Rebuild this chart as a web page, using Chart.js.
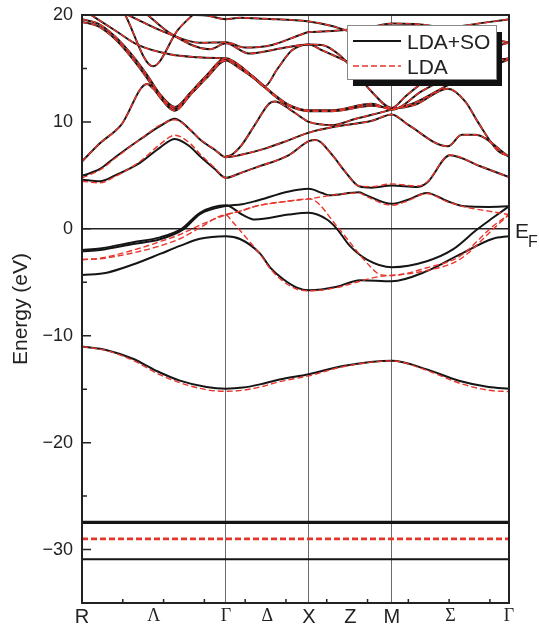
<!DOCTYPE html>
<html lang="en">
<head>
<meta charset="UTF-8">
<title>Band structure</title>
<script src="https://cdn.jsdelivr.net/npm/chart.js"></script>
<style>
  html, body { margin: 0; padding: 0; background: #fff; }
  canvas { display: block; }
</style>
</head>
<body>
<canvas id="bands" width="539" height="626"></canvas>
<script>
// k-path in units of 2pi/a : R - Gamma - X - M - Gamma
const kSym = [0, 0.867, 1.367, 1.867, 2.573];
const kLabelPos = [0, 0.433, 0.867, 1.117, 1.367, 1.617, 1.867, 2.22, 2.573];
const kLabels = ['R', 'Λ', 'Γ', 'Δ', 'X', 'Z', 'M', 'Σ', 'Γ'];
const yTicks = [20, 10, 0, -10, -20, -30];

// LDA+SO bands, [k, E(eV)]
const soCore1 = [[0, -27.45], [2.573, -27.45]];
const soCore2 = [[0, -30.9], [2.573, -30.9]];
const soSemi = [[0, -11.0], [0.15, -11.35], [0.307, -12.15], [0.45, -13.3], [0.59, -14.2], [0.75, -14.8], [0.867, -14.95], [0.97, -14.85], [1.072, -14.55], [1.19, -14.1], [1.367, -13.6], [1.572, -12.84], [1.867, -12.34], [2.078, -13.15], [2.277, -14.24], [2.45, -14.8], [2.573, -14.95]];
const soV1 = [[0, -4.33], [0.15, -4.1], [0.307, -3.34], [0.47, -2.35], [0.59, -1.6], [0.711, -0.93], [0.867, -0.69], [0.952, -0.95], [1.072, -2.3], [1.133, -3.6], [1.211, -4.7], [1.295, -5.5], [1.367, -5.75], [1.536, -5.42], [1.675, -4.8], [1.867, -4.9], [2.078, -3.96], [2.277, -2.4], [2.476, -0.93], [2.573, -0.69]];
const soV2a = [[0, -1.98], [0.108, -1.84], [0.307, -1.25], [0.47, -0.8], [0.6, 0], [0.711, 1.5], [0.867, 2.2], [0.964, 1.34], [1.042, 0.87], [1.247, 1.34], [1.367, 1.5], [1.476, 0.87], [1.536, 0], [1.614, -1.6], [1.717, -2.87], [1.867, -3.59], [2.078, -3.03], [2.235, -1.93], [2.38, -0.07], [2.476, 1.03], [2.573, 2.11]];
const soV2b = [[0, -2.1], [0.108, -1.98], [0.307, -1.42], [0.47, -0.98], [0.615, 0], [0.711, 1.38], [0.867, 2.14], [0.964, 2.3], [1.042, 2.58], [1.247, 3.5], [1.367, 3.74], [1.446, 3.35], [1.488, 3.14], [1.669, 3.42], [1.705, 3.2], [1.867, 2.34], [1.96, 2.7], [2.078, 3.36], [2.2, 2.6], [2.307, 2.1], [2.45, 2.05], [2.573, 2.1]];
const soC2 = [[0, 4.6], [0.108, 4.45], [0.2, 5.0], [0.349, 6.17], [0.47, 7.6], [0.56, 8.41], [0.65, 7.7], [0.711, 6.79], [0.8, 5.6], [0.867, 4.77], [0.952, 5.2], [1.042, 5.7], [1.247, 6.9], [1.367, 8.2], [1.41, 8.3], [1.506, 6.94], [1.584, 5.38], [1.669, 3.98], [1.747, 3.85], [1.867, 4.05], [2.018, 3.9], [2.078, 4.3], [2.217, 6.88], [2.4, 5.85], [2.573, 4.83]];
const soC1 = [[0, 4.95], [0.108, 5.6], [0.2, 6.7], [0.349, 8.35], [0.47, 9.6], [0.56, 10.3], [0.65, 9.3], [0.711, 8.35], [0.8, 7.4], [0.867, 6.69], [0.952, 6.9], [1.102, 7.5], [1.247, 8.3], [1.367, 9.0], [1.506, 9.5], [1.747, 10.1], [1.867, 10.7], [1.964, 9.74], [2.205, 7.72], [2.289, 8.8], [2.367, 8.8], [2.573, 6.73]];
const soG2 = [[0.867, 6.75], [0.904, 6.95], [0.964, 7.88], [1.042, 9.74], [1.127, 11.7], [1.163, 11.9], [1.25, 11.2], [1.343, 10.2], [1.367, 10.0], [1.506, 9.7], [1.65, 10.3], [1.867, 11.15], [2.006, 11.8], [2.2, 13.4], [2.4, 14.8], [2.573, 15.85]];
const soA = [[0, 6.3], [0.108, 8.0], [0.235, 9.7], [0.392, 13.55], [0.43, 13.1], [0.49, 12.1], [0.56, 11.2], [0.65, 12.5], [0.75, 14.1], [0.867, 15.75], [0.95, 15.0], [1.042, 14.0], [1.163, 12.4], [1.247, 11.5], [1.367, 11.0], [1.506, 11.0], [1.747, 11.5], [1.867, 11.27], [2.006, 11.6], [2.205, 13.1], [2.31, 11.9], [2.385, 10.0], [2.506, 7.3], [2.573, 6.78]];
const soB1 = [[0, 19.6], [0.096, 19.2], [0.199, 18.0], [0.3, 16.3], [0.392, 14.4], [0.47, 12.6], [0.56, 11.4], [0.651, 12.7], [0.747, 14.3], [0.867, 15.95], [0.95, 15.2], [1.042, 14.1], [1.163, 12.5], [1.247, 11.6], [1.367, 11.1], [1.506, 11.1], [1.747, 11.7], [1.867, 11.15], [2.05, 12.9], [2.25, 14.5], [2.4, 15.4], [2.573, 15.95]];
const soB2 = [[0, 19.35], [0.096, 18.95], [0.199, 17.75], [0.3, 16.0], [0.392, 14.1], [0.47, 12.3], [0.56, 11.05], [0.651, 12.5], [0.747, 14.1], [0.867, 15.85], [1.042, 14.1], [1.1, 13.3], [1.175, 14.9], [1.265, 16.7], [1.367, 17.25], [1.446, 16.7], [1.548, 16.0], [1.7, 15.0], [1.867, 14.5], [2.1, 15.3], [2.35, 16.5], [2.573, 17.4]];
const soU1 = [[0.05, 20.05], [0.2, 18.55], [0.337, 17.2], [0.536, 16.3], [0.7, 16.05], [0.867, 15.95]];
const soU2 = [[0.27, 20.05], [0.512, 18.3], [0.711, 17.4], [0.867, 17.45], [0.982, 16.95], [1.145, 17.2], [1.325, 18.2], [1.367, 18.4], [1.446, 18.45], [1.584, 18.6], [1.75, 18.9], [1.867, 19.2], [2.1, 19.0], [2.35, 18.0], [2.573, 17.45]];
const soU3 = [[0.392, 20.05], [0.53, 18.3], [0.771, 16.8], [0.867, 17.35], [1.006, 16.4], [1.205, 16.9], [1.367, 17.25], [1.446, 17.2], [1.548, 16.3], [1.645, 14.7], [1.747, 12.8], [1.867, 11.3], [1.95, 12.4], [2.1, 14.2], [2.35, 15.6], [2.573, 15.9]];
const soV = [[0.259, 20.05], [0.428, 15.2], [0.578, 18.6], [0.669, 20.05]];
const soT = [[0.6, 20.05], [0.75, 19.95], [0.867, 19.6], [0.95, 19.75], [1.1, 19.65], [1.367, 19.4], [1.5, 19.0], [1.584, 18.6], [1.7, 18.2], [1.867, 18.0], [2.1, 18.5], [2.3, 19.0], [2.573, 19.6]];

// LDA bands (no spin-orbit)
const ldaCore = [[0, -29.0], [2.573, -29.0]];
const ldaSemi = [[0, -11.0], [0.15, -11.4], [0.307, -12.3], [0.45, -13.5], [0.59, -14.4], [0.75, -15.05], [0.867, -15.2], [0.97, -15.1], [1.072, -14.8], [1.19, -14.3], [1.367, -13.75], [1.572, -12.9], [1.867, -12.35], [2.078, -13.25], [2.277, -14.45], [2.45, -15.1], [2.573, -15.23]];
const ldaV1 = [[0, -2.87], [0.108, -2.75], [0.307, -2.0], [0.47, -1.2], [0.59, -0.53], [0.711, 0.35], [0.867, 1.3], [0.964, 1.7], [1.042, 2.1], [1.247, 2.6], [1.367, 2.8], [1.392, 2.74], [1.536, 0.24], [1.735, -3.5], [1.795, -4.27], [1.867, -4.36], [2.078, -3.64], [2.277, -2.56], [2.476, 0.24], [2.573, 1.34]];
const ldaV2 = [[0, -2.87], [0.108, -2.8], [0.307, -2.25], [0.47, -1.6], [0.59, -0.93], [0.711, 0.1], [0.867, 1.3], [0.904, 0.71], [1.024, -1.47], [1.084, -2.6], [1.133, -3.7], [1.211, -4.9], [1.295, -5.65], [1.367, -5.8], [1.536, -5.5], [1.675, -4.9], [1.795, -4.45], [1.867, -4.36], [2.078, -3.9], [2.277, -2.85], [2.476, -0.05], [2.573, 1.34]];
const ldaV3 = [[0.867, 1.34], [0.964, 1.7], [1.042, 2.1], [1.247, 2.6], [1.367, 2.8], [1.506, 3.14], [1.669, 3.36], [1.705, 3.1], [1.867, 2.2], [1.96, 2.6], [2.078, 3.3], [2.2, 2.55], [2.307, 2.05], [2.45, 1.65], [2.573, 1.34]];
const ldaC2 = [[0, 4.45], [0.108, 4.3], [0.2, 4.9], [0.349, 6.3], [0.47, 7.9], [0.56, 8.75], [0.65, 8.0], [0.711, 7.0], [0.8, 5.7], [0.867, 4.77], [0.952, 5.2], [1.042, 5.7], [1.247, 6.9], [1.367, 8.2], [1.41, 8.3], [1.506, 6.94], [1.584, 5.38], [1.669, 4.0], [1.747, 3.95], [1.867, 4.2], [2.018, 4.0], [2.078, 4.35], [2.217, 6.9], [2.4, 5.85], [2.573, 4.83]];
const ldaC1 = [[0, 4.77], [0.108, 5.5], [0.2, 6.6], [0.349, 8.35], [0.47, 9.7], [0.56, 10.2], [0.65, 9.3], [0.711, 8.4], [0.8, 7.4], [0.867, 6.7], [0.952, 6.9], [1.102, 7.5], [1.247, 8.3], [1.367, 9.0], [1.506, 9.5], [1.747, 10.1], [1.867, 10.7], [1.964, 9.74], [2.205, 7.72], [2.289, 8.8], [2.367, 8.8], [2.573, 6.73]];

const soBands = [soCore1, soCore2, soSemi, soV1, soV2a, soV2b, soC2, soC1, soG2, soA, soB1, soB2, soU1, soU2, soU3, soV, soT];
const ldaBands = [ldaCore, ldaSemi, ldaV1, ldaV2, ldaV3, ldaC2, ldaC1, soG2, soA, soB1, soB2, soU1, soU2, soU3, soV, soT];

const BLACK = '#151515';
const RED = '#e8352b';

const datasets = [];
ldaBands.forEach(b => datasets.push({
  data: b.map(p => ({ x: p[0], y: p[1] })),
  borderColor: RED,
  borderWidth: b === ldaCore ? 2.6 : 1.4,
  borderDash: [6, 3],
  clip: 0
}));
soBands.forEach(b => datasets.push({
  data: b.map(p => ({ x: p[0], y: p[1] })),
  borderColor: BLACK,
  borderWidth: b === soCore1 ? 3.2 : 2,
  clip: 0
}));

// frame, inside ticks, Fermi level, legend
const decor = {
  id: 'decor',
  beforeDatasetsDraw(chart) {
    const { ctx, chartArea: a, scales: { y } } = chart;
    const y0 = y.getPixelForValue(0);
    ctx.save();
    ctx.strokeStyle = '#222';
    ctx.lineWidth = 1.5;
    ctx.beginPath();
    ctx.moveTo(a.left, y0);
    ctx.lineTo(a.right, y0);
    ctx.stroke();
    ctx.restore();
  },
  afterDatasetsDraw(chart) {
    const { ctx, chartArea: a, scales: { x, y } } = chart;
    ctx.save();
    ctx.strokeStyle = '#222';
    ctx.lineWidth = 2;
    ctx.strokeRect(a.left, a.top, a.right - a.left, a.bottom - a.top);

    ctx.lineWidth = 1.5;
    ctx.beginPath();
    for (let v = -35; v <= 20; v += 5) {
      const py = y.getPixelForValue(v);
      const len = v % 10 === 0 ? 9 : 5;
      ctx.moveTo(a.left, py);
      ctx.lineTo(a.left + len, py);
    }
    const step = 0.2458;
    for (let k = step; k < kSym[4] - 0.05; k += step) {
      const px = x.getPixelForValue(k);
      ctx.moveTo(px, a.bottom);
      ctx.lineTo(px, a.bottom - 4);
    }
    ctx.stroke();

    // E_F label
    const y0 = y.getPixelForValue(0);
    ctx.fillStyle = '#222';
    ctx.textBaseline = 'alphabetic';
    ctx.font = '21px "Liberation Sans", Arial, sans-serif';
    ctx.fillText('E', a.right + 6, y0 + 9);
    ctx.font = '16px "Liberation Sans", Arial, sans-serif';
    ctx.fillText('F', a.right + 19, y0 + 18);

    // legend box with drop shadow
    const lx = 347, ly = 25, lw = 149, lh = 54;
    ctx.fillStyle = '#111';
    ctx.fillRect(lx + 6, ly + 7, lw, lh);
    ctx.fillStyle = '#fff';
    ctx.fillRect(lx, ly, lw, lh);
    ctx.strokeStyle = '#888';
    ctx.lineWidth = 1;
    ctx.strokeRect(lx + 0.5, ly + 0.5, lw, lh);

    ctx.lineWidth = 2;
    ctx.strokeStyle = BLACK;
    ctx.beginPath();
    ctx.moveTo(353, 41);
    ctx.lineTo(401, 41);
    ctx.stroke();
    ctx.strokeStyle = RED;
    ctx.lineWidth = 1.4;
    ctx.setLineDash([6, 3]);
    ctx.beginPath();
    ctx.moveTo(353, 66);
    ctx.lineTo(401, 66);
    ctx.stroke();
    ctx.setLineDash([]);

    ctx.fillStyle = '#222';
    ctx.font = '21px "Liberation Sans", Arial, sans-serif';
    ctx.fillText('LDA+SO', 407, 48.5);
    ctx.fillText('LDA', 407, 74);
    ctx.restore();
  }
};

new Chart(document.getElementById('bands'), {
  type: 'line',
  data: { datasets },
  options: {
    responsive: false,
    animation: false,
    events: [],
    layout: { padding: { top: 15, right: 30, left: 0, bottom: 0 } },
    elements: {
      point: { radius: 0 },
      line: { cubicInterpolationMode: 'monotone', fill: false }
    },
    plugins: { legend: { display: false }, tooltip: { enabled: false } },
    scales: {
      x: {
        type: 'linear',
        min: kSym[0],
        max: kSym[4],
        afterBuildTicks: s => { s.ticks = kLabelPos.map(v => ({ value: v })); },
        afterFit: s => { s.height = 23; },
        border: { display: false },
        grid: {
          drawTicks: false,
          lineWidth: 1,
          color: c => (c.tick && kSym.slice(1, 4).includes(c.tick.value)) ? '#6a6a6a' : 'rgba(0,0,0,0)'
        },
        ticks: {
          autoSkip: false,
          maxRotation: 0,
          padding: 2,
          color: '#222',
          callback: (v, i) => kLabels[i],
          font: c => ('ΛΓΔΣ'.includes(kLabels[c.index])
            ? { family: '"Liberation Serif", "Times New Roman", serif', size: 18 }
            : { family: '"Liberation Sans", Arial, sans-serif', size: 20 })
        }
      },
      y: {
        min: -35,
        max: 20,
        afterBuildTicks: s => { s.ticks = yTicks.map(v => ({ value: v })); },
        afterFit: s => { s.width = 82; s.paddingTop = 0; s.paddingBottom = 0; },
        border: { display: false },
        grid: { display: false, drawTicks: false },
        ticks: {
          padding: 9,
          color: '#222',
          font: { family: '"Liberation Sans", Arial, sans-serif', size: 18 },
          callback: v => (v < 0 ? '\u2212' + Math.abs(v) : String(v))
        },
        title: {
          display: true,
          text: 'Energy (eV)',
          color: '#222',
          font: { family: '"Liberation Sans", Arial, sans-serif', size: 21 },
          padding: { top: 9, bottom: 0 }
        }
      }
    }
  },
  plugins: [decor]
});
</script>
</body>
</html>
